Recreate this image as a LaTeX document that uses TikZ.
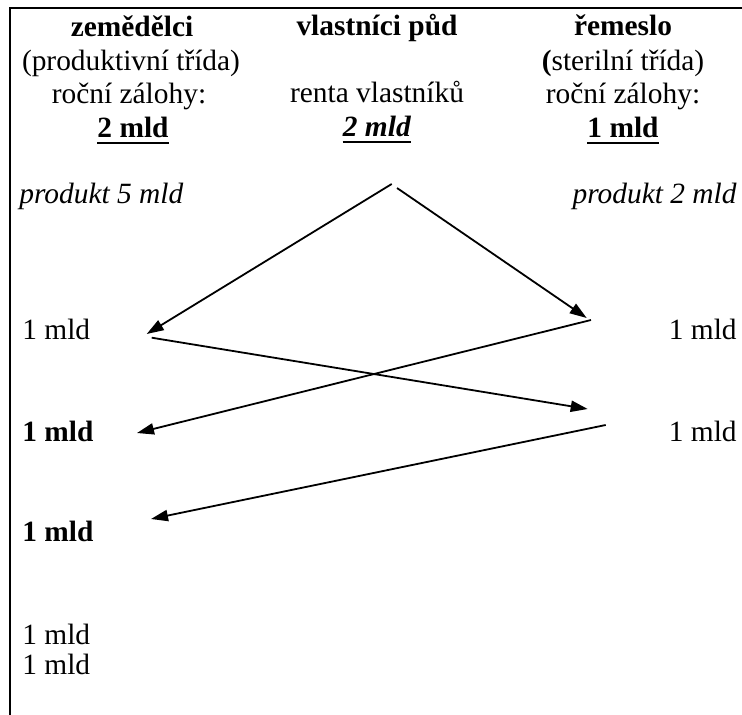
\documentclass[tikz,border=0pt]{standalone}
\usepackage{fontspec}
\setmainfont{Liberation Serif}
\usetikzlibrary{arrows.meta}
\begin{document}
\begin{tikzpicture}[x=0.5pt,y=-0.5pt,
  txt/.style={inner sep=0pt, anchor=base, font=\fontsize{14.7}{17}\selectfont},
  lt/.style={txt, anchor=base west},
  rt/.style={txt, anchor=base east},
  bd/.style={line width=1.35pt},
  arr/.style={line width=0.9pt, -{Triangle[length=8.5pt,width=5.6pt]}},
  ul/.style={line width=0.95pt}]
\useasboundingbox (0,0) rectangle (742,715);
\draw[bd] (742,8) -- (10,8) -- (10,715);
% column 1
\node[txt] (c1a) at (132,37) {\textbf{zemědělci}};
\node[txt] (c1b) at (131,71) {(produktivní třída)};
\node[txt] (c1c) at (129,104) {roční zálohy:};
\node[txt] (c1d) at (133,138) {\textbf{2 mld}};
% column 2
\node[txt] (c2a) at (377,36) {\textbf{vlastníci půd}};
\node[txt] (c2c) at (377,103) {renta vlastníků};
\node[txt] (c2d) at (377,137) {\textbf{\textit{2 mld}}};
% column 3
\node[txt] (c3a) at (623,36) {\textbf{řemeslo}};
\node[txt] (c3b) at (623,71) {\textbf{(}sterilní třída)};
\node[txt] (c3c) at (623,104) {roční zálohy:};
\node[txt] (c3d) at (623,138) {\textbf{1 mld}};
% underlines
\draw[ul] ([yshift=-2.7pt]c1d.base west) -- ([yshift=-2.7pt]c1d.base east);
\draw[ul] ([yshift=-2.7pt]c2d.base west) -- ([yshift=-2.7pt]c2d.base east);
\draw[ul] ([yshift=-2.7pt]c3d.base west) -- ([yshift=-2.7pt]c3d.base east);
% products
\node[lt] (p5) at (19,204) {\textit{produkt 5 mld}};
\node[rt] (p2) at (737,204) {\textit{produkt 2 mld}};
% left values
\node[lt] (l1) at (22,340) {1 mld};
\node[lt] (l2) at (22,441) {\textbf{1 mld}};
\node[lt] (l3) at (22,541) {\textbf{1 mld}};
\node[lt] (l4) at (22,644) {1 mld};
\node[lt] (l5) at (22,674) {1 mld};
% right values
\node[rt] (r1) at (737,340) {1 mld};
\node[rt] (r2) at (737,441) {1 mld};
% arrow end points
\coordinate (a1s) at (391.7,184);
\coordinate (a1e) at (146.7,334);
\coordinate (a2s) at (397,188);
\coordinate (a2e) at (586.7,318);
\coordinate (a3s) at (151.7,337.7);
\coordinate (a3e) at (587.7,409);
\coordinate (a4s) at (591,320);
\coordinate (a4e) at (137,433);
\coordinate (a5s) at (605.7,425);
\coordinate (a5e) at (151,519);
\draw[arr] (a1s) -- (a1e);
\draw[arr] (a2s) -- (a2e);
\draw[arr] (a3s) -- (a3e);
\draw[arr] (a4s) -- (a4e);
\draw[arr] (a5s) -- (a5e);
\end{tikzpicture}
\end{document}
